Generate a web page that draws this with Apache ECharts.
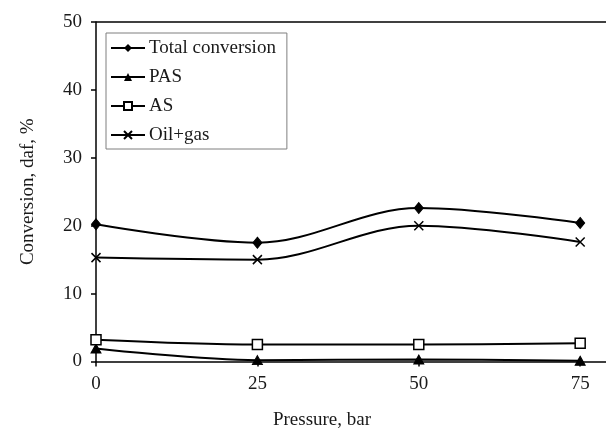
<!DOCTYPE html>
<html>
<head>
<meta charset="utf-8">
<script src="https://cdn.jsdelivr.net/npm/echarts@6/dist/echarts.min.js"></script>
<style>
  html, body { margin: 0; padding: 0; background: #fff; }
  #chart { width: 606px; height: 434px; }
</style>
</head>
<body>
<div id="chart"></div>
<script>
// Conversion (daf, %) of each fraction against hydrogen pressure
const pressures = [0, 25, 50, 75];
const totalConversion = [20.2, 17.5, 22.6, 20.4];
const pas = [1.9, 0.2, 0.3, 0.1];
const as = [3.2, 2.5, 2.5, 2.7];
const oilGas = [15.3, 15.0, 20.0, 17.6];
const xTicks = [0, 25, 50, 75];

const FONT = '"Liberation Serif", "Times New Roman", serif';
const INK = '#1a1a1a';

const pairs = (ys) => pressures.map((x, i) => [x, ys[i]]);

const crossPath = 'path://M0,0L10,10M10,0L0,10';

const baseLine = {
  type: 'line',
  smooth: 0.35,
  lineStyle: { color: '#000', width: 2 },
  emphasis: { disabled: true },
  z: 3
};

const chart = echarts.init(document.getElementById('chart'), null, { renderer: 'canvas' });

chart.setOption({
  animation: false,
  backgroundColor: '#fff',
  textStyle: { fontFamily: FONT, color: INK },
  grid: { left: 96, right: 0, top: 22, bottom: 72.5, containLabel: false, outerBoundsMode: 'none' },
  legend: {
    orient: 'vertical',
    left: 106,
    top: 33,
    padding: [5, 11, 4, 4],
    itemGap: 9,
    itemWidth: 34,
    itemHeight: 10,
    borderColor: '#7f7f7f',
    borderWidth: 1,
    backgroundColor: '#fff',
    textStyle: { fontFamily: FONT, fontSize: 19, color: INK, lineHeight: 20, padding: [0, 0, 0, -1] },
    data: ['Total conversion', 'PAS', 'AS', 'Oil+gas']
  },
  xAxis: {
    type: 'value',
    min: 0,
    max: 79,
    name: 'Pressure, bar',
    nameLocation: 'middle',
    nameGap: 49,
    nameTextStyle: { fontFamily: FONT, fontSize: 19, color: INK, padding: [0, 58, 0, 0] },
    axisLine: { onZero: false, lineStyle: { color: '#000', width: 1.5 } },
    axisTick: { show: true, length: 5, lineStyle: { color: '#000', width: 1.5 }, customValues: xTicks },
    axisLabel: { fontFamily: FONT, fontSize: 19, color: INK, margin: 13, customValues: xTicks },
    splitLine: { show: false }
  },
  yAxis: {
    type: 'value',
    min: 0,
    max: 50,
    interval: 10,
    name: 'Conversion, daf, %',
    nameLocation: 'middle',
    nameGap: 58,
    nameTextStyle: { fontFamily: FONT, fontSize: 19, color: INK },
    axisLine: { show: true, lineStyle: { color: '#000', width: 1.5 } },
    axisTick: { show: true, length: 5, lineStyle: { color: '#000', width: 1.5 } },
    axisLabel: { fontFamily: FONT, fontSize: 19, color: INK, margin: 14 },
    splitLine: { show: false }
  },
  series: [
    Object.assign({}, baseLine, {
      name: 'Total conversion',
      data: pairs(totalConversion),
      symbol: 'diamond',
      symbolSize: [9, 11],
      itemStyle: { color: '#000', borderColor: '#000' },
      markLine: {
        silent: true,
        symbol: 'none',
        label: { show: false },
        lineStyle: { color: '#000', width: 1.5, type: 'solid' },
        data: [{ yAxis: 50 }]
      }
    }),
    Object.assign({}, baseLine, {
      name: 'PAS',
      data: pairs(pas),
      symbol: 'triangle',
      symbolSize: [10, 9],
      itemStyle: { color: '#000', borderColor: '#000' }
    }),
    Object.assign({}, baseLine, {
      name: 'AS',
      data: pairs(as),
      symbol: 'rect',
      symbolSize: 10,
      itemStyle: { color: '#fff', borderColor: '#000', borderWidth: 1.5 }
    }),
    Object.assign({}, baseLine, {
      name: 'Oil+gas',
      data: pairs(oilGas),
      symbol: crossPath,
      symbolSize: 9,
      itemStyle: { color: 'none', borderColor: '#000', borderWidth: 1.5 }
    })
  ]
});
</script>
</body>
</html>
